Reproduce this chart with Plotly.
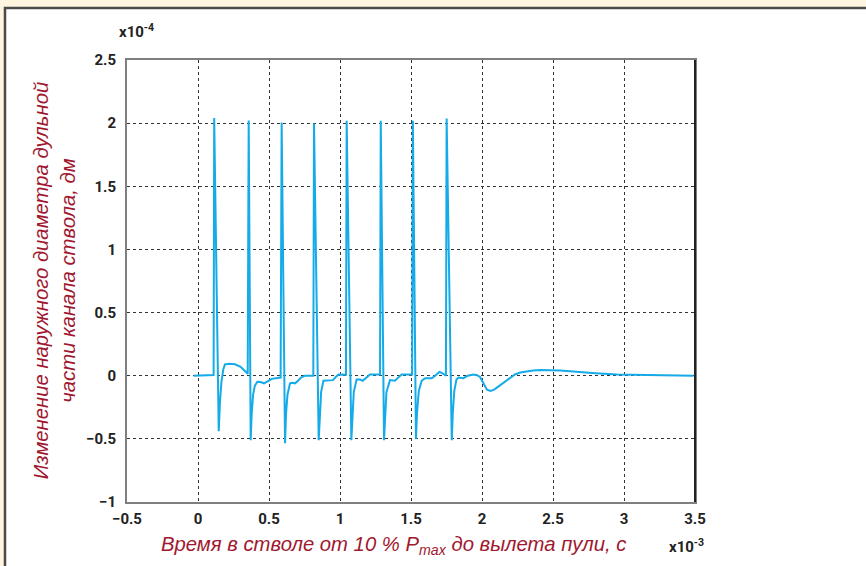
import plotly.graph_objects as go

# time, x10^-3 s
t_ms = [-0.03, 0.0, 0.05, 0.11,
        0.114, 0.146,
        0.155, 0.165, 0.178, 0.19, 0.22, 0.26, 0.3, 0.33, 0.35,
        0.357, 0.371,
        0.378, 0.388, 0.4, 0.418, 0.44, 0.465, 0.49, 0.52, 0.55, 0.582,
        0.589, 0.613,
        0.62, 0.63, 0.648, 0.665, 0.683, 0.7, 0.725, 0.754, 0.812,
        0.817, 0.85,
        0.857, 0.867, 0.883, 0.92, 0.95, 0.97, 0.99, 1.042,
        1.047, 1.08,
        1.087, 1.097, 1.117, 1.14, 1.16, 1.185, 1.211, 1.282,
        1.287, 1.31,
        1.317, 1.327, 1.352, 1.37, 1.387, 1.41, 1.434, 1.508,
        1.513, 1.535,
        1.542, 1.555, 1.575, 1.6, 1.646, 1.67, 1.7, 1.72, 1.746,
        1.751, 1.787,
        1.794, 1.805, 1.82, 1.835, 1.869, 1.9, 1.94, 1.965, 1.986, 2.01, 2.035,
        2.06, 2.085, 2.11, 2.14, 2.174, 2.2, 2.232, 2.27, 2.315, 2.36, 2.41,
        2.48, 2.55, 2.62, 2.7, 2.8, 2.95, 3.1, 3.3, 3.49]

# outer diameter change, x10^-4 dm
d_val = [0.0, 0.0, 0.002, 0.005,
         2.04, -0.44,
         -0.2, -0.05, 0.05, 0.09, 0.095, 0.09, 0.07, 0.04, 0.015,
         2.02, -0.51,
         -0.3, -0.15, -0.08, -0.048, -0.05, -0.06, -0.045, -0.025, -0.02, -0.015,
         2.005, -0.535,
         -0.3, -0.15, -0.06, -0.055, -0.06, -0.045, -0.015, 0.0, 0.0,
         1.997, -0.51,
         -0.3, -0.13, -0.04, -0.035, -0.035, -0.01, 0.01, 0.008,
         2.018, -0.51,
         -0.3, -0.13, -0.03, -0.03, -0.04, -0.015, 0.01, 0.01,
         2.018, -0.51,
         -0.3, -0.13, -0.035, -0.035, -0.04, -0.015, 0.01, 0.01,
         2.018, -0.5,
         -0.3, -0.12, -0.04, -0.02, -0.02, 0.0, 0.03, 0.02, 0.0,
         2.037, -0.51,
         -0.3, -0.12, -0.03, -0.015, -0.02, 0.0, 0.01, 0.005, -0.01, -0.06, -0.11,
         -0.12, -0.11, -0.09, -0.065, -0.035, -0.01, 0.01, 0.025, 0.035, 0.042, 0.045,
         0.045, 0.042, 0.036, 0.028, 0.02, 0.01, 0.006, 0.002, 0.0]

x_ticks = [-0.5, 0, 0.5, 1, 1.5, 2, 2.5, 3, 3.5]
x_tick_labels = ["\u22120.5", "0", "0.5", "1", "1.5", "2", "2.5", "3", "3.5"]
y_ticks = [-1, -0.5, 0, 0.5, 1, 1.5, 2, 2.5]
y_tick_labels = ["\u22121", "\u22120.5", "0", "0.5", "1", "1.5", "2", "2.5"]

tick_font = dict(family="Roboto, sans-serif", size=15, color="#222", weight="bold")
title_color = "#A0182F"
title_font = dict(family="Liberation Sans, Arial, sans-serif", size=20.3, color=title_color)

fig = go.Figure()
fig.add_trace(go.Scatter(x=t_ms, y=d_val, mode="lines",
                         line=dict(color="#14ABE8", width=2), showlegend=False))

fig.update_layout(
    width=866, height=566,
    margin=dict(l=127, r=171, t=60, b=64),
    paper_bgcolor="#FEF5E0",
    plot_bgcolor="white",
    xaxis=dict(range=[-0.5, 3.5], tickvals=x_ticks, ticktext=x_tick_labels,
               showgrid=True, gridcolor="#333", griddash="dot", gridwidth=1,
               zeroline=False, showline=True, linecolor="#7f7f7f", linewidth=2,
               mirror=True, ticks="", tickfont=tick_font, ticklabelstandoff=2),
    yaxis=dict(range=[-1, 2.5], tickvals=y_ticks, ticktext=y_tick_labels,
               showgrid=True, gridcolor="#333", griddash="dot", gridwidth=1,
               zeroline=False, showline=True, linecolor="#7f7f7f", linewidth=2,
               mirror=True, ticks="", tickfont=tick_font, ticklabelstandoff=6),
    font=dict(family="Roboto, sans-serif"),
)

# white panel with dark border (top/left visible)
fig.add_shape(type="rect", xref="paper", yref="paper",
              x0=-0.2148, x1=1.6, y0=-0.25, y1=1.1176,
              fillcolor="white", line=dict(color="#4a4a4a", width=2.5), layer="below")
# right axis edge darker
fig.add_shape(type="line", xref="paper", yref="paper",
              x0=1, x1=1, y0=0, y1=1, line=dict(color="#222", width=2))

# exponent labels
fig.add_annotation(xref="paper", yref="paper", x=0.0176, y=1.0, yshift=17,
                   text="x10<sup>-4</sup>", showarrow=False,
                   xanchor="center", yanchor="bottom",
                   font=dict(family="Roboto, sans-serif", size=15, color="#222", weight="bold"))
fig.add_annotation(xref="paper", yref="paper", x=0.985, y=0, yshift=-32,
                   text="x10<sup>-3</sup>", showarrow=False,
                   xanchor="center", yanchor="top",
                   font=dict(family="Roboto, sans-serif", size=15, color="#222", weight="bold"))

# axis titles
fig.add_annotation(xref="paper", yref="paper", x=0.47, y=0, yshift=-29,
                   text="<i>Время в стволе от 10 % P<sub>max</sub> до вылета пули, с</i>",
                   showarrow=False, xanchor="center", yanchor="top",
                   font=title_font)
fig.add_annotation(xref="paper", yref="paper", x=-0.128, y=0.5,
                   text="<i>Изменение наружного диаметра дульной<br>части канала ствола, дм</i>",
                   showarrow=False, xanchor="center", yanchor="middle", textangle=-90,
                   font=title_font)

fig.write_html("out.html")
